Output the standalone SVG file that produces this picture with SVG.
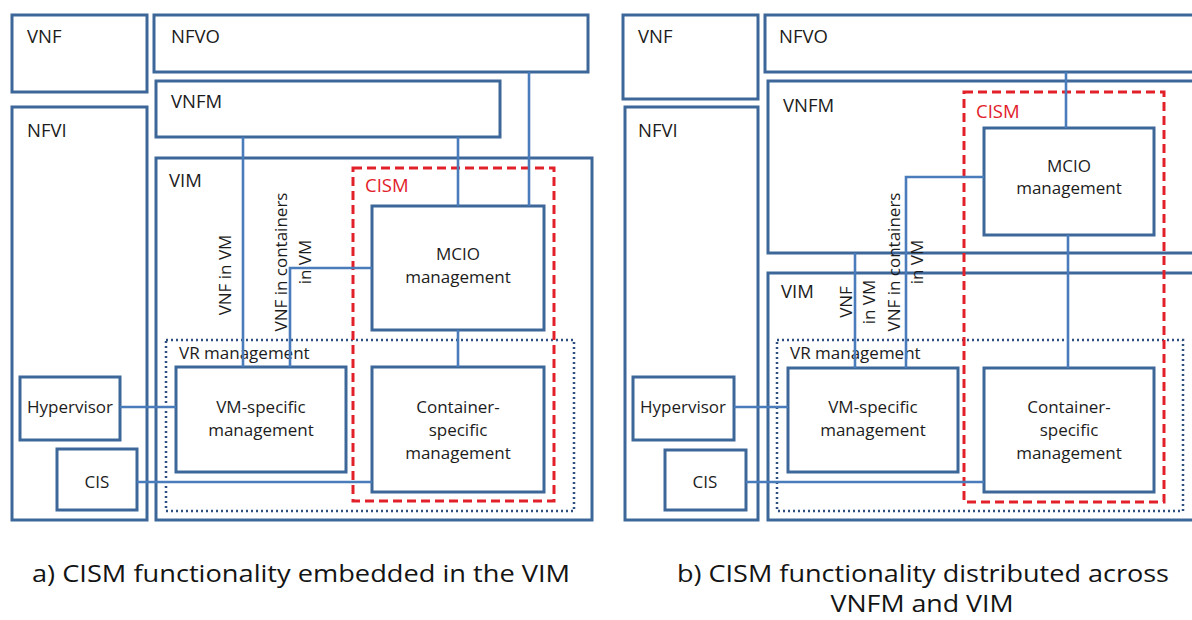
<svg xmlns="http://www.w3.org/2000/svg" width="1192" height="620" viewBox="0 0 1192 620">
  <style>
    .box { fill: #ffffff; stroke: #3d6799; stroke-width: 3; }
    .cism { fill: none; stroke: #e2202a; stroke-width: 3; stroke-dasharray: 9 5; }
    .vr { fill: none; stroke: #2f4f80; stroke-width: 2.5; stroke-dasharray: 2 3; }
    .link { fill: none; stroke: #4a7cbc; stroke-width: 2.6; }
    text { font-family: "Open Sans", "Liberation Sans", sans-serif; font-size: 17px; fill: #1c1c1c; }
    .h { font-size: 18.5px; }
    .c { text-anchor: middle; }
    .red { fill: #e2202a; }
    .cap { font-size: 24px; fill: #141414; }
  </style>
  <rect width="1192" height="620" fill="#ffffff"/>

  <!-- (a) CISM embedded in the VIM -->
  <g id="a-vnf"><rect class="box" x="12" y="15" width="135" height="77"/><text class="h" x="27" y="43">VNF</text></g>
  <g id="a-nfvo"><rect class="box" x="154" y="15" width="434" height="57"/><text class="h" x="171" y="43">NFVO</text></g>
  <g id="a-vnfm"><rect class="box" x="156" y="81" width="344" height="56"/><text class="h" x="171" y="108">VNFM</text></g>
  <g id="a-nfvi"><rect class="box" x="12" y="107" width="135" height="413"/><text class="h" x="27" y="137">NFVI</text></g>
  <g id="a-vim"><rect class="box" x="156" y="158" width="436" height="362"/><text class="h" x="169" y="187">VIM</text></g>
  <g id="a-vr"><rect class="vr" x="166" y="340" width="408" height="171"/><text x="179" y="359">VR management</text></g>
  <g id="a-cism"><rect class="cism" x="353" y="168" width="201" height="333"/><text class="h red" x="365" y="192">CISM</text></g>
  <g id="a-mcio"><rect class="box" x="372" y="206" width="172" height="124"/><text class="c" x="458" y="260">MCIO</text><text class="c" x="458" y="283">management</text></g>
  <g id="a-vmmgmt"><rect class="box" x="176" y="367" width="170" height="105"/><text class="c" x="261" y="413">VM-specific</text><text class="c" x="261" y="436">management</text></g>
  <g id="a-ctrmgmt"><rect class="box" x="372" y="367" width="172" height="125"/><text class="c" x="458" y="413">Container-</text><text class="c" x="458" y="436">specific</text><text class="c" x="458" y="459">management</text></g>
  <g id="a-hypervisor"><rect class="box" x="20" y="377" width="100" height="63"/><text class="c" x="70" y="413">Hypervisor</text></g>
  <g id="a-cis"><rect class="box" x="57" y="449" width="80" height="61"/><text class="c" x="97" y="488">CIS</text></g>

  <!-- (b) CISM split across VNFM and VIM -->
  <g id="b-vnf"><rect class="box" x="623" y="15" width="135" height="84"/><text class="h" x="638" y="43">VNF</text></g>
  <g id="b-nfvo"><rect class="box" x="765" y="15" width="445" height="57"/><text class="h" x="779" y="43">NFVO</text></g>
  <g id="b-vnfm"><rect class="box" x="768" y="81" width="445" height="172"/><text class="h" x="783" y="112">VNFM</text></g>
  <g id="b-nfvi"><rect class="box" x="625" y="107" width="133" height="413"/><text class="h" x="638" y="137">NFVI</text></g>
  <g id="b-vim"><rect class="box" x="768" y="273" width="445" height="247"/><text class="h" x="781" y="298">VIM</text></g>
  <g id="b-vr"><rect class="vr" x="777" y="340" width="406" height="171"/><text x="790" y="359">VR management</text></g>
  <g id="b-cism"><rect class="cism" x="964" y="92" width="200" height="410"/><text class="h red" x="976" y="118">CISM</text></g>
  <g id="b-mcio"><rect class="box" x="984" y="128" width="170" height="107"/><text class="c" x="1069" y="172">MCIO</text><text class="c" x="1069" y="194">management</text></g>
  <g id="b-vmmgmt"><rect class="box" x="788" y="368" width="170" height="104"/><text class="c" x="873" y="413">VM-specific</text><text class="c" x="873" y="436">management</text></g>
  <g id="b-ctrmgmt"><rect class="box" x="984" y="368" width="170" height="124"/><text class="c" x="1069" y="413">Container-</text><text class="c" x="1069" y="436">specific</text><text class="c" x="1069" y="459">management</text></g>
  <g id="b-hypervisor"><rect class="box" x="633" y="377" width="101" height="63"/><text class="c" x="683" y="413">Hypervisor</text></g>
  <g id="b-cis"><rect class="box" x="665" y="450" width="81" height="60"/><text class="c" x="705" y="488">CIS</text></g>

  <!-- reference-point connectors -->
  <g id="connectors">
    <path class="link" d="M243,137 V367"/>
    <path class="link" d="M458,137 V206"/>
    <path class="link" d="M529,72 V206"/>
    <path class="link" d="M290,367 V268 H372"/>
    <path class="link" d="M458,330 V367"/>
    <path class="link" d="M120,407 H176"/>
    <path class="link" d="M137,482 H372"/>

    <path class="link" d="M1066,72 V128"/>
    <path class="link" d="M855,253 V368"/>
    <path class="link" d="M906,368 V177 H984"/>
    <path class="link" d="M1068,235 V368"/>
    <path class="link" d="M734,407 H788"/>
    <path class="link" d="M746,482 H984"/>
  </g>

  <!-- interface labels -->
  <g id="labels">
    <text class="c" transform="translate(231,275) rotate(-90)">VNF in VM</text>
    <text class="c" transform="translate(287,262) rotate(-90)">VNF in containers</text>
    <text class="c" transform="translate(311,262) rotate(-90)">in VM</text>

    <text class="c" transform="translate(852,302) rotate(-90)">VNF</text>
    <text class="c" transform="translate(875,302) rotate(-90)">in VM</text>
    <text class="c" transform="translate(900,262) rotate(-90)">VNF in containers</text>
    <text class="c" transform="translate(923,262) rotate(-90)">in VM</text>
  </g>

  <!-- captions -->
  <text class="cap" x="32" y="582" textLength="538" lengthAdjust="spacingAndGlyphs">a) CISM functionality embedded in the VIM</text>
  <text class="cap" x="677" y="582" textLength="492" lengthAdjust="spacingAndGlyphs">b) CISM functionality distributed across</text>
  <text class="cap c" x="922" y="612" textLength="183" lengthAdjust="spacingAndGlyphs">VNFM and VIM</text>
</svg>
